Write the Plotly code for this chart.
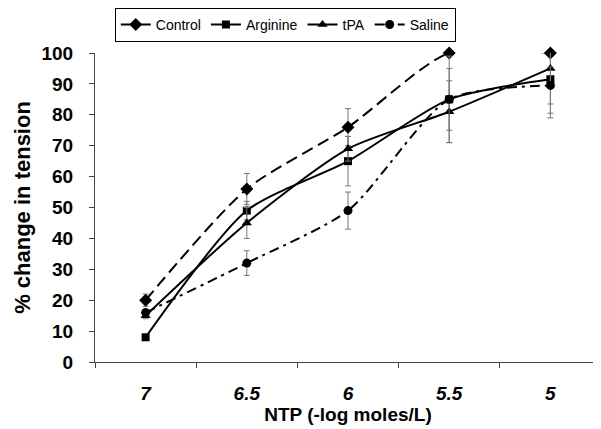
import plotly.graph_objects as go

categories = ["7", "6.5", "6", "5.5", "5"]
control = [20, 56, 76, 100, 100]
control_err = [2, 5, 6, 0, 0]
arginine = [8, 49, 65, 85, 91.5]
arginine_err = [0, 3, 8, 10, 11]
tpa = [15, 45, 69, 81, 95]
tpa_err = [1, 5, 4, 10, 16]
saline = [16, 32, 49, 85, 89.5]
saline_err = [1, 4, 6, 14, 6]

series = [
    ("Control", control, control_err, "diamond", "12px,6px", 10),
    ("Arginine", arginine, arginine_err, "square", "solid", 8),
    ("tPA", tpa, tpa_err, "triangle-up", "solid", 9),
    ("Saline", saline, saline_err, "circle", "10px,5px,3px,5px", 9),
]

fig = go.Figure()
for name, vals, err, sym, dash, size in series:
    fig.add_trace(go.Scatter(
        x=categories, y=vals, name=name, mode="lines+markers",
        line=dict(color="black", width=2, dash=dash, shape="spline", smoothing=0.7),
        marker=dict(symbol=sym, size=size, color="black"),
        error_y=dict(type="data", array=err, visible=True, color="#777777",
                     thickness=1, width=3),
        cliponaxis=False,
    ))

font_family = "Liberation Sans, Arial, sans-serif"
fig.update_layout(
    width=601, height=429,
    margin=dict(l=87, r=8, t=45, b=75, autoexpand=False),
    paper_bgcolor="white", plot_bgcolor="white",
    font=dict(family=font_family, color="black"),
    showlegend=True,
    legend=dict(orientation="h", x=0.713, y=1.146, xanchor="right", yanchor="top",
                bordercolor="black", borderwidth=1, font=dict(size=14),
                itemwidth=30, tracegroupgap=0),
    xaxis=dict(
        type="category", showgrid=False, showline=True, linecolor="#444444",
        linewidth=1, ticks="outside", tickson="boundaries", ticklen=5,
        tickcolor="#444444",
        tickfont=dict(size=19, weight="bold", style="italic"),
        ticklabelstandoff=14,
        title=dict(text="NTP (-log moles/L)", font=dict(size=19, weight="bold"),
                   standoff=0),
        range=[-0.5, 4.5],
    ),
    yaxis=dict(
        range=[0, 100], dtick=10, showgrid=False, showline=True,
        linecolor="#444444", linewidth=1, ticks="outside", ticklen=5,
        tickcolor="#444444",
        tickfont=dict(size=19, weight="bold"),
        ticklabelstandoff=12,
        title=dict(text="% change in tension", font=dict(size=22, weight="bold"),
                   standoff=4),
        zeroline=False,
    ),
)

fig.write_html("out.html")
